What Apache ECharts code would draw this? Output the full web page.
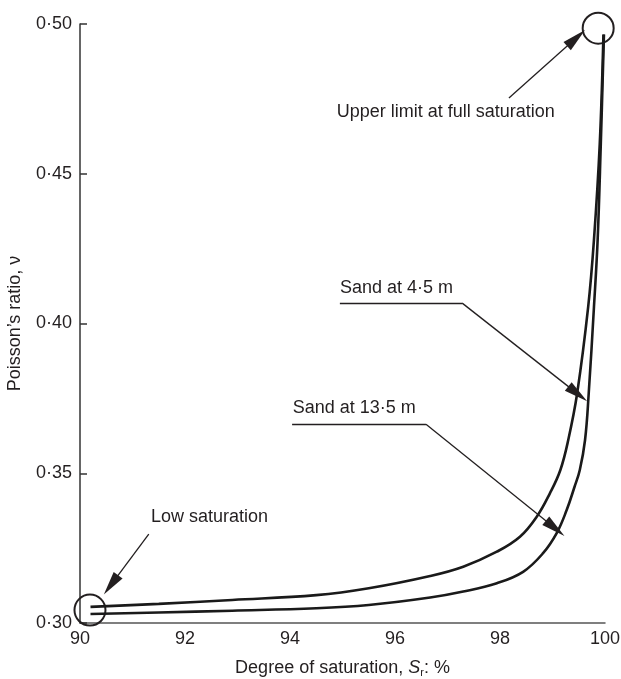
<!DOCTYPE html>
<html>
<head>
<meta charset="utf-8">
<script src="https://cdn.jsdelivr.net/npm/echarts@6/dist/echarts.min.js"></script>
<style>
  html, body { margin: 0; padding: 0; background: #fff; }
  #main { width: 621px; height: 679px; }
</style>
</head>
<body>
<div id="main"></div>
<script>
// curves: [degree of saturation %, poisson's ratio]
var sand45 = [
    [90.2, 0.3054], [91.5, 0.3064], [92.9, 0.3077], [94.5, 0.3093], [95.5, 0.3116],
    [96.67, 0.3157], [97.3, 0.3188], [97.94, 0.3238], [98.38, 0.3288], [98.7, 0.3355],
    [98.95, 0.3433], [99.15, 0.3511], [99.3, 0.3611], [99.47, 0.3767], [99.68, 0.4056],
    [99.79, 0.428], [99.9, 0.46], [99.97, 0.4965]
];
var sand135 = [
    [90.2, 0.303], [91.5, 0.3035], [92.9, 0.3041], [94.5, 0.3049], [95.5, 0.306],
    [96.67, 0.3085], [97.3, 0.3105], [97.94, 0.3133], [98.44, 0.3171], [98.82, 0.3233],
    [99.08, 0.33], [99.27, 0.3377], [99.42, 0.3455], [99.52, 0.3511], [99.62, 0.3611],
    [99.69, 0.3767], [99.79, 0.4056], [99.86, 0.428], [99.92, 0.46], [99.98, 0.4965]
];

// ringed points
var circlePts = [[90.19, 0.3043], [99.87, 0.4986]];

// annotation texts and where they start (data coords)
var noteTexts = ['Upper limit at full saturation', 'Sand at 4·5 m', 'Sand at 13·5 m', 'Low saturation'];
var notePos = [[94.89, 0.4706], [94.95, 0.4119], [94.05, 0.3718], [91.35, 0.3355]];

// leader lines: underlines (no head) and arrows
var underlines = [
    [[94.95, 0.4068], [97.28, 0.4068]],
    [[94.04, 0.3664], [96.59, 0.3664]]
];
var arrows = [
    [[98.17, 0.4753], [99.45, 0.4953]],
    [[97.28, 0.4068], [99.48, 0.3765]],
    [[96.59, 0.3664], [99.05, 0.3316]],
    [[91.31, 0.3297], [90.59, 0.3127]]
];

var ink = '#231f20';
var font = 'Liberation Sans, Arial, sans-serif';

var myChart = echarts.init(document.getElementById('main'));

var leaderData = [];
underlines.forEach(function (s) {
    leaderData.push([{ coord: s[0], symbol: 'none' }, { coord: s[1], symbol: 'none' }]);
});
arrows.forEach(function (s) {
    leaderData.push([{ coord: s[0], symbol: 'none' }, { coord: s[1], symbol: 'triangle' }]);
});

var option = {
    animation: false,
    backgroundColor: '#fff',
    grid: { left: 80, right: 16, top: 24, bottom: 56, containLabel: false, outerBoundsMode: 'none' },
    xAxis: {
        type: 'value',
        min: 90,
        max: 100,
        interval: 2,
        name: '{a|Degree of saturation, }{i|S}{s|r}{a|: %}',
        nameLocation: 'middle',
        nameGap: 35,
        nameTextStyle: {
            rich: {
                a: { fontFamily: font, fontSize: 18, color: ink },
                i: { fontFamily: font, fontSize: 18, color: ink, fontStyle: 'italic' },
                s: { fontFamily: font, fontSize: 11, color: ink, verticalAlign: 'bottom', padding: [9, 0, 0, 0] }
            }
        },
        axisLine: { show: true, lineStyle: { color: '#555', width: 1.5 } },
        axisTick: { show: false },
        splitLine: { show: false },
        axisLabel: { color: ink, fontFamily: font, fontSize: 18, margin: 7 }
    },
    yAxis: {
        type: 'value',
        min: 0.3,
        max: 0.5,
        interval: 0.05,
        name: 'Poisson’s ratio, ν',
        nameLocation: 'middle',
        nameGap: 56,
        nameTextStyle: { color: ink, fontFamily: font, fontSize: 18 },
        axisLine: { show: true, lineStyle: { color: '#333', width: 1.5 } },
        axisTick: { show: true, inside: true, length: 7, lineStyle: { color: '#333', width: 1.5 } },
        splitLine: { show: false },
        axisLabel: {
            color: ink, fontFamily: font, fontSize: 18, margin: 8,
            formatter: function (v) { return v.toFixed(2).replace('.', '·'); }
        }
    },
    series: [
        {
            name: 'Sand at 4·5 m',
            type: 'line',
            data: sand45,
            smooth: 0.4,
            showSymbol: false,
            lineStyle: { color: '#1a1a1a', width: 2.6 }
        },
        {
            name: 'Sand at 13·5 m',
            type: 'line',
            data: sand135,
            smooth: 0.4,
            showSymbol: false,
            lineStyle: { color: '#1a1a1a', width: 2.6 }
        },
        {
            name: 'rings',
            type: 'scatter',
            data: circlePts,
            symbol: 'circle',
            symbolSize: 31,
            itemStyle: { color: 'rgba(0,0,0,0)', borderColor: ink, borderWidth: 2, opacity: 1 },
            markLine: {
                silent: true,
                symbolSize: [11, 24],
                label: { show: false },
                lineStyle: { color: ink, width: 1.3, type: 'solid', opacity: 1 },
                itemStyle: { color: ink },
                data: leaderData
            }
        },
        {
            name: 'notes',
            type: 'scatter',
            data: notePos,
            symbolSize: 0,
            silent: true,
            itemStyle: { opacity: 1 },
            label: {
                show: true,
                position: 'right',
                distance: 0,
                color: ink,
                fontFamily: font,
                fontSize: 18,
                formatter: function (p) { return noteTexts[p.dataIndex]; }
            }
        }
    ]
};
myChart.setOption(option);
</script>
</body>
</html>
